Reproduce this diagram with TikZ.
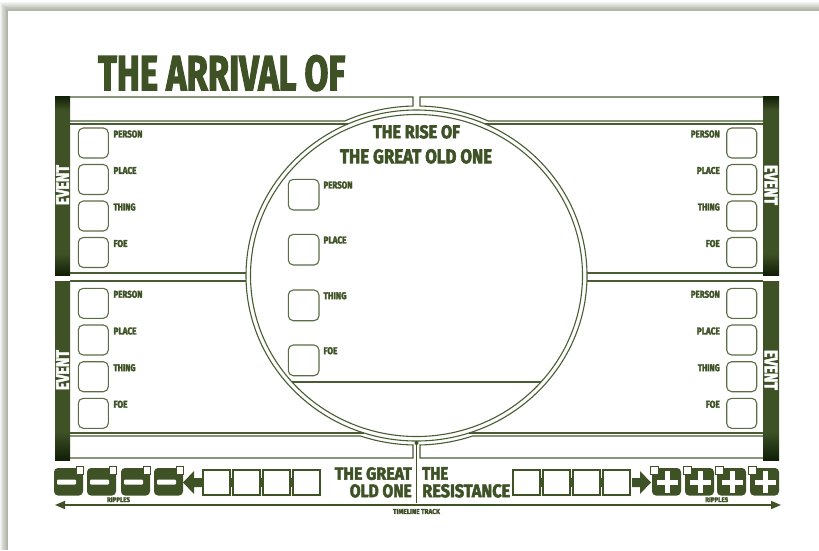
\documentclass[tikz,border=0pt]{standalone}
\usepackage{fontspec}
\setmainfont{Fira Sans}[BoldFeatures={FakeBold=3}]
\usetikzlibrary{arrows.meta}
\definecolor{gr}{RGB}{62,82,38}
\definecolor{dk}{RGB}{16,30,6}
\definecolor{ln}{RGB}{72,94,50}
\definecolor{bx}{RGB}{90,110,70}
\definecolor{sh}{RGB}{110,118,95}
\pgfdeclareverticalshading{barA}{100bp}{color(0bp)=(dk); color(25bp)=(dk); color(31bp)=(gr); color(71bp)=(gr); color(75bp)=(dk); color(100bp)=(dk)}
\pgfdeclareverticalshading{barB}{100bp}{color(0bp)=(dk); color(25bp)=(dk); color(33bp)=(gr); color(75bp)=(gr); color(100bp)=(gr)}
\newcommand{\fitbox}[3]{\resizebox{#1pt}{#2pt}{\bfseries #3}}
\tikzset{
  pl/.style={draw=ln, line width=1.1pt},
  bxs/.style={draw=bx, line width=1.1pt, rounded corners=5pt},
  lab/.style={text=gr, inner sep=0pt},
  evt/.style={text=white, inner sep=0pt},
  tsq/.style={draw=gr, line width=2pt, fill=white},
  tok/.style={fill=gr, rounded corners=4pt},
  corner/.style={fill=white, draw=gr, line width=1pt}
}
\begin{document}
\begin{tikzpicture}[x=1pt,y=-1pt]
\useasboundingbox (0,0) rectangle (819,550);
% page and shadow
\fill[white] (0,0) rectangle (819,550);
\foreach \k in {1,...,10} \fill[sh, opacity=0.07] ({8-0.8*\k},{11-0.9*\k}) rectangle (819,550);
\fill[white] (8,11) rectangle (819,550);

% title
\node[lab, anchor=north west] (title) at (98,55) {\fitbox{247}{35}{THE ARRIVAL OF}};

% side bars
\shade[shading=barA] (55,96) rectangle (70,275);
\shade[shading=barB] (55,281) rectangle (70,460);
\shade[shading=barA] (763,96) rectangle (779,275);
\shade[shading=barB] (763,281) rectangle (779,460);
\node[evt, rotate=90] (evUL) at (62.5,185) {\fitbox{40}{12.5}{EVENT}};
\node[evt, rotate=90] (evLL) at (62.5,370) {\fitbox{40}{12.5}{EVENT}};
\node[evt, rotate=-90] (evUR) at (771,185) {\fitbox{40}{12.5}{EVENT}};
\node[evt, rotate=-90] (evLR) at (771,370) {\fitbox{40}{12.5}{EVENT}};

% bands and panel lines - left
\draw[pl] (70,97) -- (413,97) -- plot[domain=91.15:114.3, samples=25, variable=\a] ({416.5+174.5*cos(\a)},{275.5-169.5*sin(\a)}) -- (70,121);
\draw[pl] (70,124) -- (347.9,124);
\draw[pl] (70,273) -- (246,273);
\draw[pl] (70,281) -- (246.1,281);
\draw[pl] (70,433) -- (364.1,433);
\draw[pl] (70,436) -- plot[domain=251.2:268.85, samples=25, variable=\a] ({416.5+174.5*cos(\a)},{275.5-169.5*sin(\a)}) -- (413,458) -- (70,458);
% right
\draw[pl] (763,121) -- plot[domain=65.7:88.85, samples=25, variable=\a] ({416.5+174.5*cos(\a)},{275.5-169.5*sin(\a)}) -- (420,97) -- (763,97);
\draw[pl] (485.1,124) -- (763,124);
\draw[pl] (587,273) -- (763,273);
\draw[pl] (586.9,281) -- (763,281);
\draw[pl] (468.9,433) -- (763,433);
\draw[pl] (763,458) -- (420,458) -- plot[domain=271.15:288.8, samples=25, variable=\a] ({416.5+174.5*cos(\a)},{275.5-169.5*sin(\a)}) -- (763,436);

% circle
\draw[pl] (416.5,275.5) ellipse [x radius=170.5pt, y radius=165.5pt];
\draw[pl] (416.5,275.5) ellipse [x radius=166pt, y radius=161pt];
\draw[pl] (292,382) -- (541,382);
\node[lab, anchor=north] (rise1) at (416.5,125) {\fitbox{87}{13}{THE RISE OF}};
\node[lab, anchor=north] (rise2) at (416,149) {\fitbox{152}{14}{THE GREAT OLD ONE}};

% boxes and labels
\foreach \yy/\w/\lb [count=\i] in {128/29/PERSON,164.5/23/PLACE,201/22/THING,237.5/14/FOE} {
  \draw[bxs] (78.3,\yy) rectangle ++(30,30);
  \node[lab, anchor=west] (ul\i) at (113.3,\yy+6) {\fitbox{\w}{7}{\lb}};
  \draw[bxs] (726.7,\yy) rectangle ++(30,30);
  \node[lab, anchor=east] (ur\i) at (720,\yy+6) {\fitbox{\w}{7}{\lb}};
}
\foreach \yy/\w/\lb [count=\i] in {288.3/29/PERSON,325/23/PLACE,361.7/22/THING,398.3/14/FOE} {
  \draw[bxs] (78.3,\yy) rectangle ++(30,30);
  \node[lab, anchor=west] (ll\i) at (113.3,\yy+6) {\fitbox{\w}{7}{\lb}};
  \draw[bxs] (726.7,\yy) rectangle ++(30,30);
  \node[lab, anchor=east] (lr\i) at (720,\yy+6) {\fitbox{\w}{7}{\lb}};
}
\foreach \yy/\w/\lb [count=\i] in {179.3/29/PERSON,234.3/23/PLACE,290/23/THING,345/14/FOE} {
  \draw[bxs] (288.3,\yy) rectangle ++(30.7,30.7);
  \node[lab, anchor=west] (cc\i) at (323.3,\yy+5.7) {\fitbox{\w}{7}{\lb}};
}

% center divider
\coordinate (dtop) at (416.5,443);
\coordinate (dbot) at (416.5,503);
\draw[gr, line width=1pt] (dtop) -- (dbot);
\fill[gr] (dtop) circle (2pt);

% bottom texts
\node[lab, anchor=north east] (tg1) at (412,467) {\fitbox{77}{12.5}{THE GREAT}};
\node[lab, anchor=north east] (tg2) at (412,484) {\fitbox{62}{13}{OLD ONE}};
\node[lab, anchor=north west] (tr1) at (422,467) {\fitbox{26}{12.5}{THE}};
\node[lab, anchor=north west] (tr2) at (422,484) {\fitbox{88}{13}{RESISTANCE}};

% left track
\foreach \xx in {203,233,263} \fill[gr] (\xx+26,478) rectangle (\xx+31,487);
\foreach \xx in {203,233,263,293} \draw[tsq] (\xx,470) rectangle (\xx+27,494.5);
\fill[gr] (183,482.5) -- (194,471) -- (194,478) -- (202,478) -- (202,487) -- (194,487) -- (194,494) -- cycle;
\foreach \xx in {54,87,121,154} {
  \fill[tok] (\xx,468) rectangle (\xx+29,495.5);
  \fill[white, rounded corners=1pt] (\xx+3,479.5) rectangle (\xx+22,484.5);
  \filldraw[corner] (\xx+22,466.5) rectangle (\xx+29.5,474);
}
% right track
\foreach \xx in {513,543,573} \fill[gr] (\xx+26,478) rectangle (\xx+31,487);
\foreach \xx in {513,543,573,603} \draw[tsq] (\xx,470) rectangle (\xx+27,494.5);
\fill[gr] (651,482.5) -- (640,471) -- (640,478) -- (632,478) -- (632,487) -- (640,487) -- (640,494) -- cycle;
\foreach \xx in {652,685,717,750} {
  \fill[tok] (\xx,468) rectangle (\xx+29,495.5);
  \fill[white] (\xx+12.5,471) rectangle (\xx+18,493);
  \fill[white] (\xx+5,479.5) rectangle (\xx+26,485);
  \filldraw[corner] (\xx-1.5,466.5) rectangle (\xx+6,474);
}
\node[lab] (rip1) at (118.5,499.7) {\fitbox{23}{4.7}{RIPPLES}};
\node[lab] (rip2) at (716.7,499.7) {\fitbox{23}{4.7}{RIPPLES}};

% timeline
\coordinate (tlL) at (55,505);
\coordinate (tlR) at (781,505);
\draw[gr, line width=1.6pt, {Triangle[length=10pt,width=8pt]}-{Triangle[length=10pt,width=8pt]}] (tlL) -- (tlR);
\node[lab] (tlt) at (416.5,511.5) {\fitbox{47}{5}{TIMELINE TRACK}};
\end{tikzpicture}
\end{document}
